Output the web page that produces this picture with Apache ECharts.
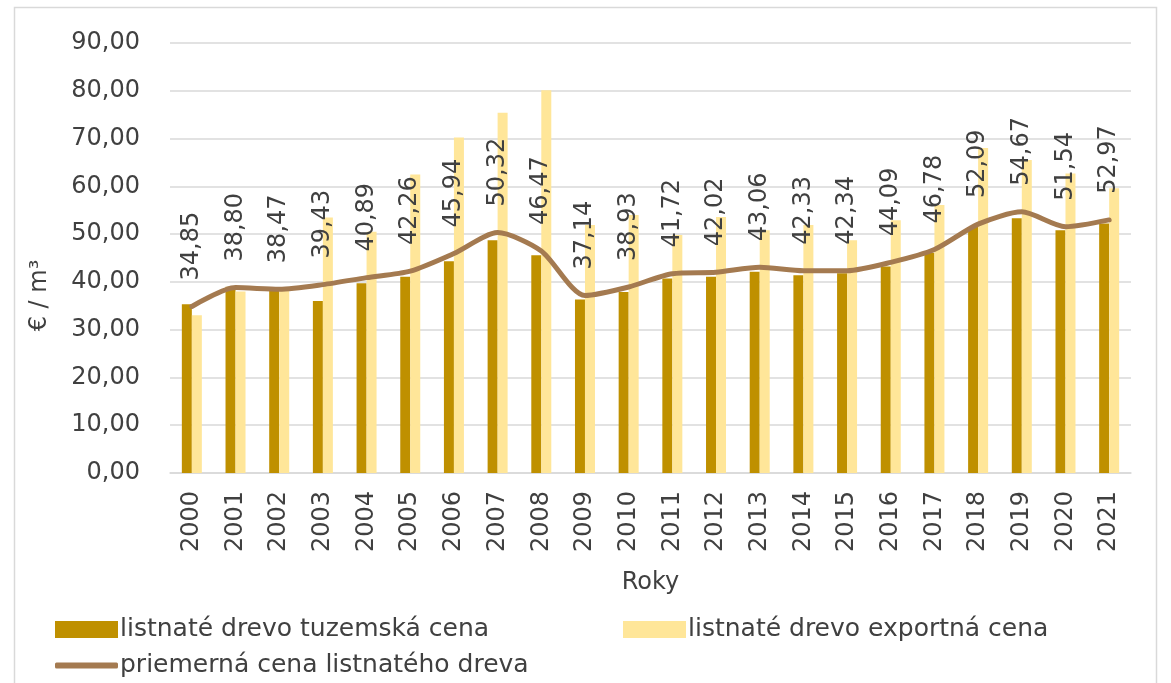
<!DOCTYPE html>
<html lang="sk">
<head>
    <meta charset="UTF-8">
    <title>Ceny listnatého dreva</title>
    <script src="https://cdn.jsdelivr.net/npm/echarts@6/dist/echarts.min.js"></script>
    <style>
        html, body { margin: 0; padding: 0; background: #fff; }
        #main { width: 1171px; height: 683px; }
    </style>
</head>
<body>
<div id="main"></div>
<script type="text/javascript">
    // roky
    var years = ['2000', '2001', '2002', '2003', '2004', '2005', '2006', '2007', '2008', '2009', '2010',
        '2011', '2012', '2013', '2014', '2015', '2016', '2017', '2018', '2019', '2020', '2021'];
    // listnaté drevo tuzemská cena (odčítané z grafu)
    var domestic = [35.3, 39.0, 38.5, 36.0, 39.7, 41.1, 44.3, 48.7, 45.6, 36.3, 37.9,
        40.7, 41.1, 42.1, 41.4, 41.8, 43.2, 46.1, 51.5, 53.3, 50.8, 52.2];
    // listnaté drevo exportná cena (odčítané z grafu)
    var exportPrice = [33.0, 38.0, 38.4, 53.5, 50.5, 62.5, 70.2, 75.4, 80.1, 51.9, 54.0,
        49.8, 53.6, 50.8, 51.9, 48.7, 52.9, 56.1, 68.0, 65.5, 62.7, 59.6];
    // priemerná cena listnatého dreva
    var average = [34.85, 38.80, 38.47, 39.43, 40.89, 42.26, 45.94, 50.32, 46.47, 37.14, 38.93,
        41.72, 42.02, 43.06, 42.33, 42.34, 44.09, 46.78, 52.09, 54.67, 51.54, 52.97];
    var yTicks = [0, 10, 20, 30, 40, 50, 60, 70, 80, 90];

    var font = 'DejaVu Sans';
    var txt = '#404040';
    var fmt = function (v) { return Number(v).toFixed(2).replace('.', ','); };

    var myChart = echarts.init(document.getElementById('main'));

    var legendText = { fontFamily: font, fontSize: 25, color: txt, padding: [0, 0, 0, -3] };

    var option = {
        animation: false,
        textStyle: { fontFamily: font },
        graphic: [{
            type: 'rect',
            shape: { x: 14.5, y: 7.5, width: 1142, height: 690 },
            style: { fill: 'none', stroke: '#d9d9d9', lineWidth: 1.5 },
            silent: true
        }],
        grid: { left: 170, right: 40, top: 43, bottom: 210 },
        legend: [{
            left: 50, top: 612,
            itemWidth: 63, itemHeight: 17,
            textStyle: legendText,
            data: [{ name: 'listnaté drevo tuzemská cena', icon: 'rect' }]
        }, {
            left: 618, top: 612,
            itemWidth: 63, itemHeight: 17,
            textStyle: legendText,
            data: [{ name: 'listnaté drevo exportná cena', icon: 'rect' }]
        }, {
            left: 50, top: 648,
            itemWidth: 63, itemHeight: 6,
            textStyle: legendText,
            data: [{ name: 'priemerná cena listnatého dreva', icon: 'roundRect' }]
        }],
        xAxis: {
            type: 'category',
            data: years,
            name: 'Roky',
            nameLocation: 'middle',
            nameGap: 98,
            nameTextStyle: { fontFamily: font, fontSize: 24, color: txt },
            axisLine: { lineStyle: { color: '#d9d9d9', width: 1.5 } },
            axisTick: { show: false },
            axisLabel: { rotate: 90, margin: 18, fontFamily: font, fontSize: 24, color: txt }
        },
        yAxis: {
            type: 'value',
            min: yTicks[0],
            max: yTicks[yTicks.length - 1],
            interval: 10,
            name: '€ / m³',
            nameLocation: 'middle',
            nameGap: 118,
            nameTextStyle: { fontFamily: font, fontSize: 24, color: txt, padding: [0, 0, 0, -75] },
            axisLine: { show: false },
            axisTick: { show: false },
            splitLine: { lineStyle: { color: '#d9d9d9', width: 1.5 } },
            axisLabel: { formatter: fmt, margin: 30, fontFamily: font, fontSize: 24, color: txt }
        },
        series: [{
            name: 'listnaté drevo tuzemská cena',
            type: 'bar',
            data: domestic,
            barWidth: 10,
            barGap: '0%',
            itemStyle: { color: '#BF9000' }
        }, {
            name: 'listnaté drevo exportná cena',
            type: 'bar',
            data: exportPrice,
            barWidth: 10,
            itemStyle: { color: '#FFE699' }
        }, {
            name: 'priemerná cena listnatého dreva',
            type: 'line',
            data: average,
            smooth: 0.25,
            showSymbol: true,
            symbol: 'circle',
            symbolSize: 0.1,
            itemStyle: { color: '#A47A50' },
            lineStyle: { color: '#A47A50', width: 5, cap: 'round', join: 'round' },
            label: {
                show: true,
                position: [0, -26],
                rotate: 90,
                align: 'left',
                verticalAlign: 'middle',
                fontFamily: font,
                fontSize: 24,
                color: txt,
                formatter: function (p) { return fmt(p.value); }
            },
            z: 5
        }]
    };

    myChart.setOption(option);
</script>
</body>
</html>
